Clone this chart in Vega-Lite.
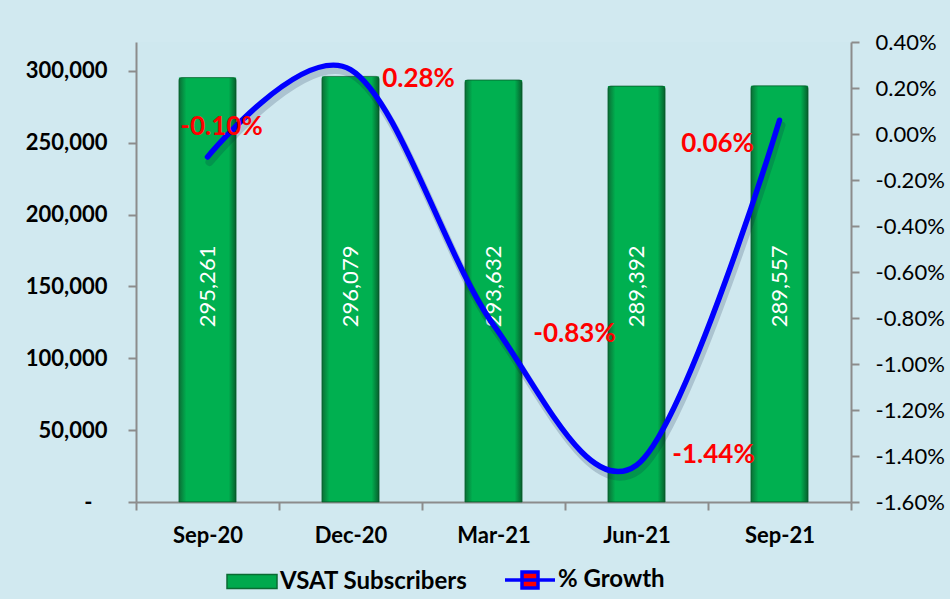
{
  "$schema": "https://vega.github.io/schema/vega-lite/v6.json",
  "width": 715,
  "height": 460,
  "autosize": {"type": "none"},
  "padding": {"left": 136, "top": 42, "right": 99, "bottom": 97},
  "background": "#d1e9f0",
  "config": {
    "view": {"stroke": null, "fill": "#cfe8ef"},
    "font": "Lato",
    "axis": {"domainColor": "#8c8c8c", "tickColor": "#8c8c8c", "domainWidth": 2, "tickWidth": 2, "tickSize": 8, "grid": false, "labelColor": "#000000", "labelFont": "Lato"}
  },
  "data": {
    "values": [
      {"period": "Sep-20", "subs": 295261, "growth": -0.0010},
      {"period": "Dec-20", "subs": 296079, "growth": 0.0028},
      {"period": "Mar-21", "subs": 293632, "growth": -0.0083},
      {"period": "Jun-21", "subs": 289392, "growth": -0.0144},
      {"period": "Sep-21", "subs": 289557, "growth": 0.0006}
    ]
  },
  "encoding": {
    "x": {
      "field": "period",
      "type": "ordinal",
      "sort": null,
      "scale": {"paddingInner": 0, "paddingOuter": 0},
      "axis": {
        "title": null,
        "labelAngle": 0,
        "labelFontSize": 22,
        "labelFontWeight": "bold",
        "labelPadding": 15,
        "tickBand": "extent"
      }
    }
  },
  "layer": [
    {
      "encoding": {
        "y": {
          "type": "quantitative",
          "scale": {"domain": [0, 320000], "nice": false, "zero": true},
          "axis": {
            "title": null,
            "orient": "left",
            "values": [0, 50000, 100000, 150000, 200000, 250000, 300000],
            "labelExpr": "datum.value == 0 ? '-' : format(datum.value, ',')",
            "labelFontSize": 22,
            "labelFontWeight": "bold",
            "labelPadding": {"condition": {"test": "datum.value == 0", "value": 36}, "value": 21}
          }
        }
      },
      "layer": [
        {
          "mark": {"type": "bar", "width": {"band": 0.4}},
          "encoding": {
            "y": {"field": "subs"},
            "color": {
              "datum": "VSAT Subscribers",
              "type": "nominal",
              "scale": {"domain": ["VSAT Subscribers", "% Growth"], "range": ["#00a94d", "#ff0000"]},
              "legend": {
                "title": null,
                "orient": "none",
                "direction": "horizontal",
                "legendX": 104,
                "legendY": 526,
                "labelFontSize": 24,
                "labelFontWeight": "bold",
                "labelColor": "#000000",
                "labelFont": "Lato",
                "labelLimit": 400,
                "symbolSize": 2500,
                "labelOffset": 16,
                "columnPadding": 30,
                "encode": {
                  "symbols": {
                    "update": {
                      "shape": {"signal": "datum.value == 'VSAT Subscribers' ? 'M-1,-0.28H1V0.28H-1Z' : 'M-1,0H1M-0.32,-0.32H0.32V0.32H-0.32Z'"},
                      "fill": {"signal": "datum.value == 'VSAT Subscribers' ? '#00a94d' : '#c0504d'"},
                      "stroke": {"signal": "datum.value == 'VSAT Subscribers' ? '#0a6b33' : '#0000ff'"},
                      "strokeWidth": {"signal": "datum.value == 'VSAT Subscribers' ? 1.5 : 3.5"},
                      "opacity": {"value": 1},
                      "fillOpacity": {"value": 1},
                      "strokeOpacity": {"value": 1}
                    }
                  }
                }
              }
            }
          }
        },
        {
          "mark": {
            "type": "bar",
            "width": {"band": 0.4},
            "cornerRadiusTopLeft": 3,
            "cornerRadiusTopRight": 3,
            "stroke": "#0a5a2b",
            "strokeWidth": 0.6,
            "fill": {
              "gradient": "linear",
              "x1": 0, "x2": 1, "y1": 0, "y2": 0,
              "stops": [
                {"offset": 0, "color": "#0b6e35"},
                {"offset": 0.13, "color": "#00b050"},
                {"offset": 0.87, "color": "#00b050"},
                {"offset": 1, "color": "#075e2c"}
              ]
            }
          },
          "encoding": {"y": {"field": "subs"}}
        },
        {
          "mark": {"type": "text", "angle": 270, "color": "#ffffff", "fontSize": 22, "font": "Lato", "align": "center", "baseline": "middle"},
          "encoding": {
            "y": {"datum": 150000},
            "text": {"field": "subs", "type": "quantitative", "format": ","}
          }
        }
      ]
    },
    {
      "encoding": {
        "y": {
          "type": "quantitative",
          "scale": {"domain": [-0.016, 0.004], "nice": false, "zero": false},
          "axis": {
            "title": null,
            "orient": "right",
            "values": [-0.016, -0.014, -0.012, -0.010, -0.008, -0.006, -0.004, -0.002, 0, 0.002, 0.004],
            "labelExpr": "replace(format(datum.value, '.2%'), '\u2212', '-')",
            "labelFontSize": 22,
            "labelPadding": 16
          }
        }
      },
      "layer": [
        {
          "mark": {"type": "line", "interpolate": "cardinal", "tension": 0, "strokeWidth": 8, "strokeCap": "round", "stroke": "#0a1a40", "opacity": 0.18, "xOffset": 2, "yOffset": 5},
          "encoding": {
            "y": {"field": "growth"}
          }
        },
        {
          "mark": {"type": "line", "interpolate": "cardinal", "tension": 0, "strokeWidth": 5.5, "strokeCap": "round", "stroke": "#0000ff"},
          "encoding": {
            "y": {"field": "growth"}
          }
        },
        {
          "mark": {
            "type": "text",
            "fontSize": 26,
            "fontWeight": "bold",
            "font": "Lato",
            "align": "center",
            "baseline": "middle",
            "text": {"expr": "replace(format(datum.growth, '.2%'), '\u2212', '-')"},
            "dx": {"expr": "datum.period == 'Sep-20' ? 14 : datum.period == 'Dec-20' ? 68 : datum.period == 'Mar-21' ? 81 : datum.period == 'Jun-21' ? 77 : -62"},
            "dy": {"expr": "datum.period == 'Sep-20' ? -30 : datum.period == 'Dec-20' ? 9 : datum.period == 'Mar-21' ? 9 : datum.period == 'Jun-21' ? -10 : 24"}
          },
          "encoding": {
            "y": {"field": "growth"},
            "color": {"datum": "% Growth", "type": "nominal"}
          }
        }
      ]
    }
  ],
  "resolve": {"scale": {"y": "independent"}}
}
